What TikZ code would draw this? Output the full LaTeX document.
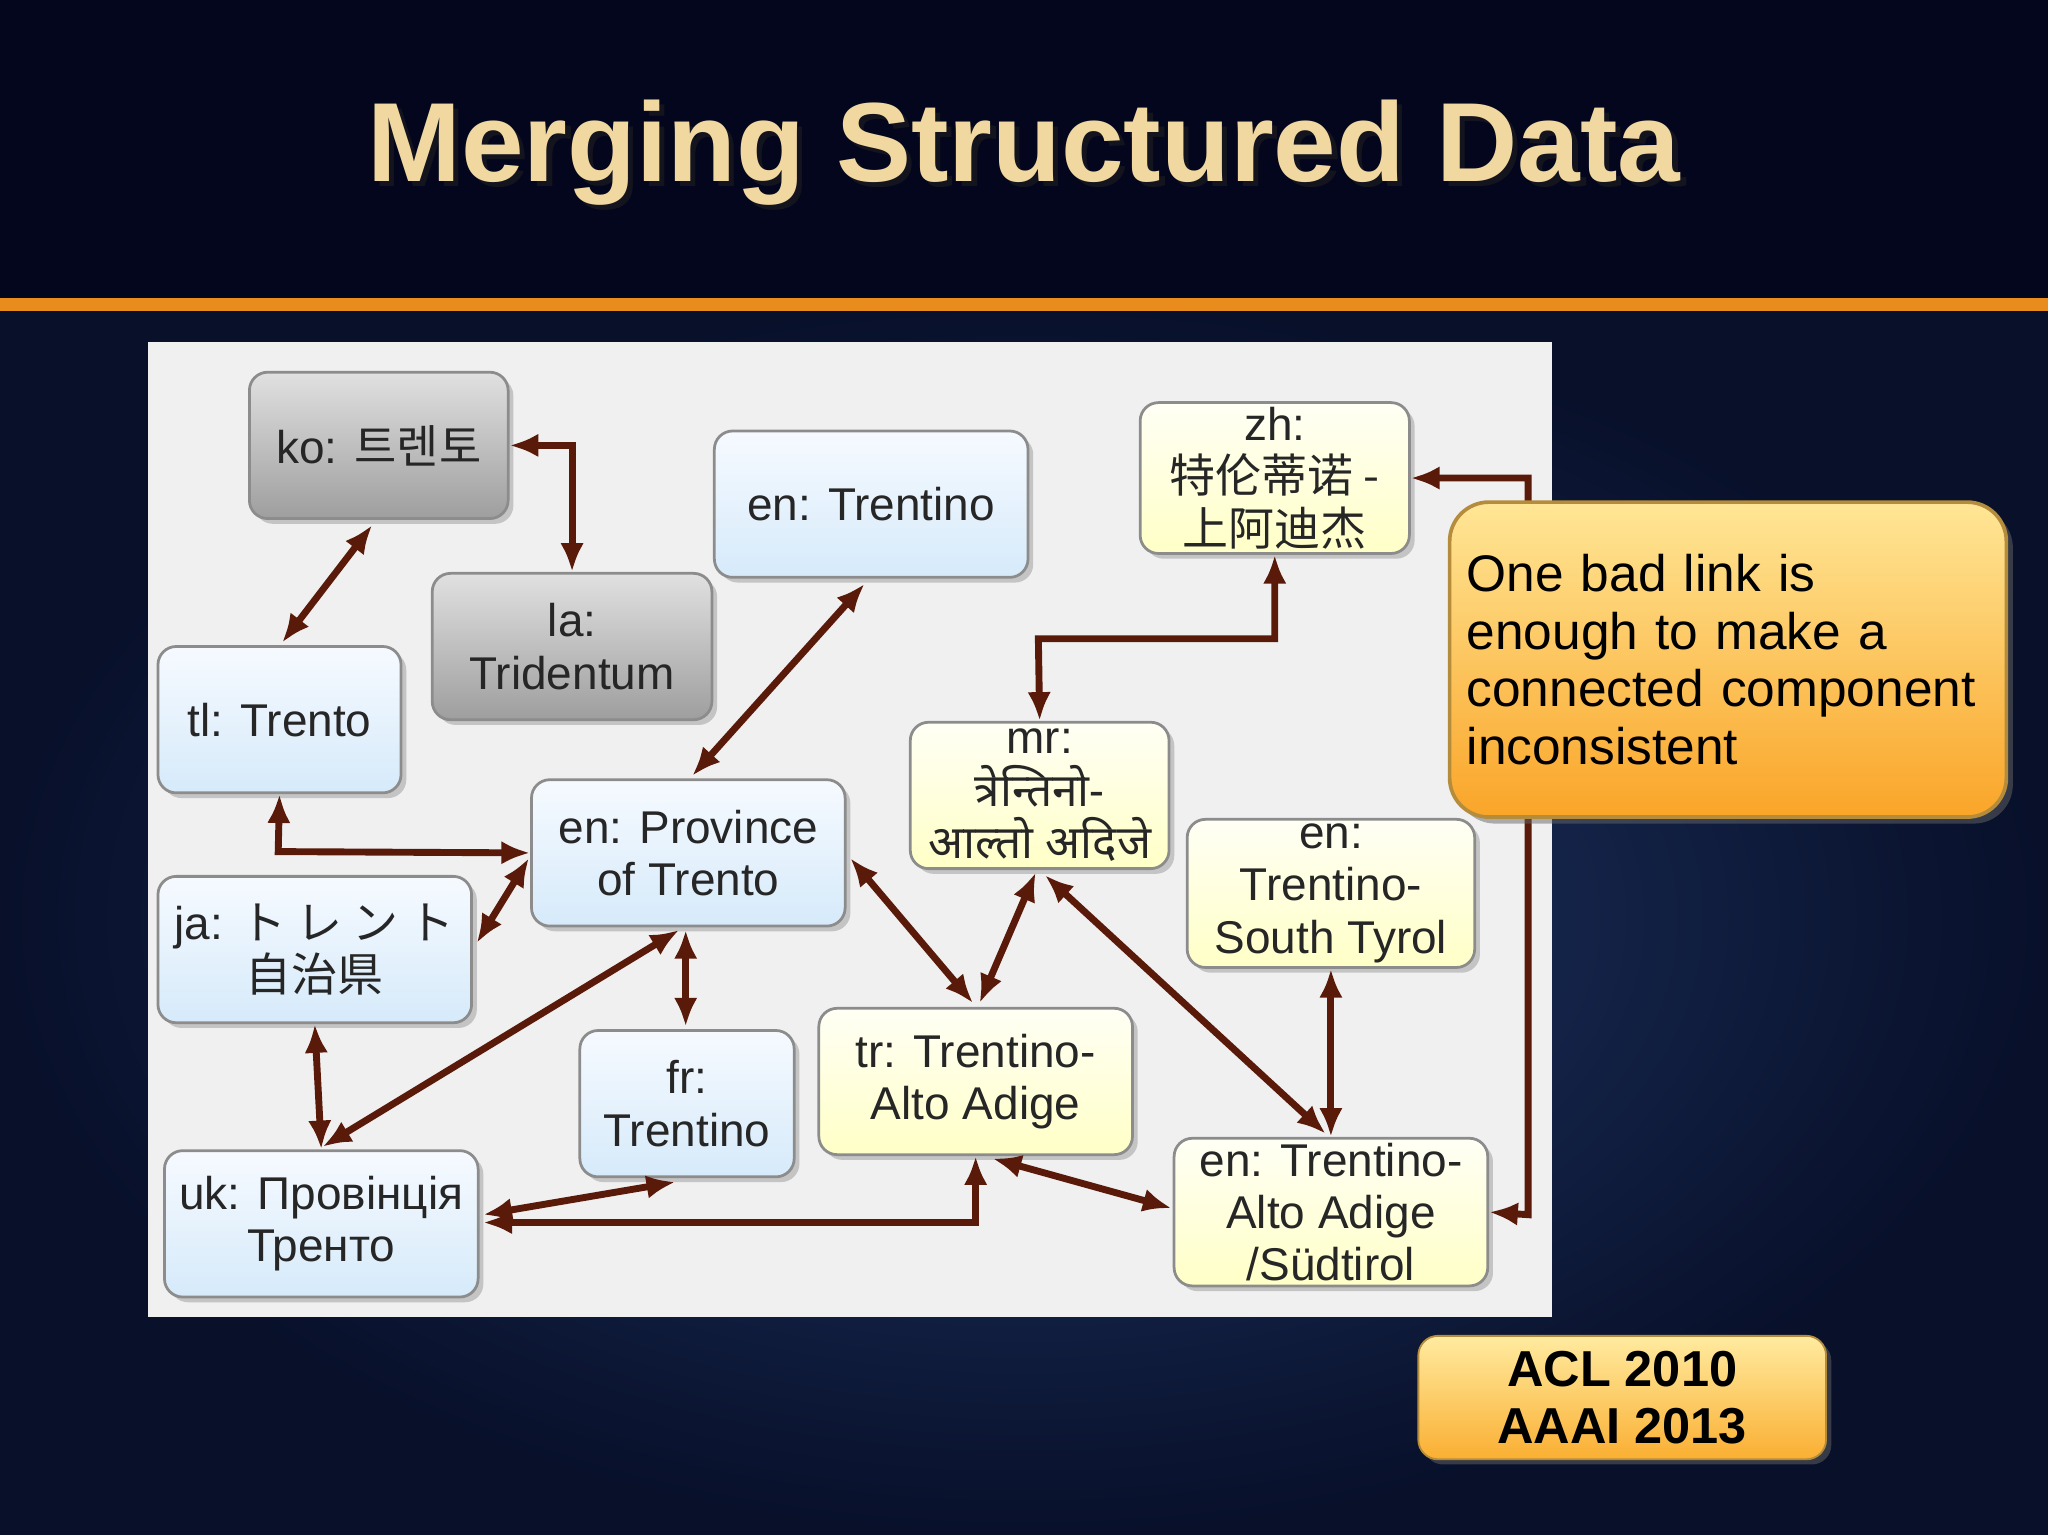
\documentclass[tikz,border=0pt]{standalone}
\usepackage{fontspec}
\setmainfont{Liberation Sans}
\newfontfamily\krfont{Noto Sans CJK KR}
\newfontfamily\jpfont{Noto Sans CJK JP}
\newfontfamily\zhfont{Noto Sans CJK SC}
\newfontfamily\devfont[Script=Devanagari]{Noto Sans}
\usetikzlibrary{shadows,arrows.meta}
\definecolor{arr}{HTML}{5A1A0A}
\definecolor{bgin}{RGB}{32,56,104}
\definecolor{bgout}{RGB}{8,16,42}
\definecolor{topband}{RGB}{3,6,28}
\definecolor{orline}{RGB}{232,140,30}
\definecolor{titlec}{RGB}{240,216,160}
\definecolor{titlesh}{RGB}{20,20,30}
\definecolor{calldraw}{RGB}{180,140,60}
\definecolor{calltop}{RGB}{255,230,150}
\definecolor{callbot}{RGB}{250,165,40}
\definecolor{acltop}{RGB}{255,235,160}
\definecolor{aclbot}{RGB}{250,175,50}
\definecolor{bltop}{RGB}{246,250,255}
\definecolor{blbot}{RGB}{214,234,250}
\tikzset{
 box/.style={rounded corners=0.14cm,draw=black!45,line width=0.6pt,align=center,text=black!85,
   font=\fontsize{10}{11.4}\selectfont,inner sep=1pt,minimum height=1.12cm,
   drop shadow={shadow xshift=0.04cm,shadow yshift=-0.04cm,fill=black!40}},
 bl/.style={box,top color=bltop,bottom color=blbot},
 yl/.style={box,top color=yellow!4,bottom color=yellow!22},
 gr/.style={box,top color=black!12,bottom color=black!38},
 conn/.style={draw=arr,line width=1.5pt,{Latex[length=0.22cm,width=0.18cm]}-{Latex[length=0.22cm,width=0.18cm]}},
}
\begin{document}
\begin{tikzpicture}[x=0.01cm,y=-0.01cm]
\useasboundingbox (0,0) rectangle (1568,1175);
\fill[bgout] (0,0) rectangle (1568,1175);
\shade[inner color=bgin, outer color=bgout] (0,230) rectangle (1568,1175);
\fill[topband] (0,0) rectangle (1568,228);
\fill[orline] (0,228) rectangle (1568,238);
\node[text=titlesh,font=\bfseries\fontsize{24.5}{28}\selectfont] at (788,121) {Merging Structured Data};
\node (title) [text=titlec,font=\bfseries\fontsize{24.5}{28}\selectfont] at (784,117) {Merging Structured Data};
\fill[black!6] (113,262) rectangle (1188,1008);

\node (ko) [gr,minimum width=1.98cm] at (290,341) {ko: \krfont 트렌토};
\node (la) [gr,minimum width=2.14cm] at (438,495) {la:\\Tridentum};
\node (ent) [bl,minimum width=2.40cm] at (667,386) {en: Trentino};
\node (zh) [yl,minimum width=2.06cm] at (976,366) {zh:\\{\zhfont 特伦蒂诺 -}\\{\zhfont 上阿迪杰}};
\node (tl) [bl,minimum width=1.86cm] at (214,551) {tl: Trento};
\node (prov) [bl,minimum width=2.40cm] at (527,653) {en: Province\\of Trento};
\node (mr) [yl,minimum width=1.98cm] at (796,609) {mr:\\{\devfont त्रेन्तिनो-}\\{\devfont आल्तो अदिजे}};
\node (tst) [yl,minimum width=2.20cm] at (1019,684) {en:\\Trentino-\\South Tyrol};
\node (ja) [bl,minimum width=2.40cm] at (241,727) {ja: {\jpfont ト レ ン ト}\\{\jpfont 自治県}};
\node (fr) [bl,minimum width=1.64cm] at (526,845) {fr:\\Trentino};
\node (tr) [yl,minimum width=2.40cm] at (747,828) {tr: Trentino-\\Alto Adige};
\node (uk) [bl,minimum width=2.40cm] at (246,937) {uk: Провінція\\Тренто};
\node (taa) [yl,minimum width=2.40cm] at (1019,928) {en: Trentino-\\Alto Adige\\/Südtirol};

\coordinate (a1) at (438,341);
\draw[conn] (ko.east) -- (a1) -- (la.north);
\draw[conn] (285,402) -- (216,492);
\draw[conn] (662,447) -- (530,594);
\coordinate (a2) at (213,652);
\draw[conn] (tl.south) -- (a2) -- (prov.west);
\draw[conn] (365,722) -- (405,657);
\draw[conn] (520,712) -- (247,878);
\draw[conn] (525,712) -- (525,786);
\draw[conn] (651,657) -- (745,768);
\draw[conn] (793,668) -- (750,768);
\draw[conn] (800,670) -- (1015,868);
\coordinate (a3) at (976,489); \coordinate (a4) at (795,489);
\draw[conn] (zh.south) -- (a3) -- (a4) -- (mr.north);
\draw[conn] (tst.south) -- (taa.north);
\draw[conn] (ja.south) -- (uk.north);
\draw[conn] (370,930) -- (517,905);
\coordinate (a5) at (747,936);
\draw[conn] (370,936) -- (a5) -- (tr.south);
\draw[conn] (760,887) -- (897,925);
\coordinate (a6) at (1170,366); \coordinate (a7) at (1170,930);
\draw[conn] (zh.east) -- (a6) -- (a7) -- (taa.east);

\node (call) [rounded corners=0.3cm,draw=calldraw,line width=0.8pt,
  top color=calltop,bottom color=callbot,
  minimum width=4.26cm,minimum height=2.41cm,align=left,text width=4.0cm,
  font=\fontsize{11.2}{12.6}\selectfont,
  drop shadow={shadow xshift=0.05cm,shadow yshift=-0.05cm,fill=black!60}] at (1323,505)
  {One bad link is\\enough to make a\\connected component\\inconsistent};
\node (acl) [rounded corners=0.15cm,draw=calldraw,
  top color=acltop,bottom color=aclbot,
  minimum width=3.12cm,minimum height=0.84cm,align=center,font=\bfseries\fontsize{11}{12.4}\selectfont,
  drop shadow={shadow xshift=0.04cm,shadow yshift=-0.04cm,fill=black!60}] at (1242,1070)
  {ACL 2010\\AAAI 2013};
\end{tikzpicture}
\end{document}
